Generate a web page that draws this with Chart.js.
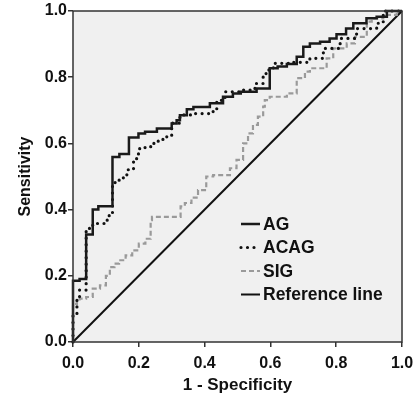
<!DOCTYPE html>
<html>
<head>
<meta charset="utf-8">
<script src="https://cdn.jsdelivr.net/npm/chart.js@4"></script>
<style>
  body { margin: 0; background: #fff; }
  #wrap { width: 416px; height: 399px; }
</style>
</head>
<body>
<div id="wrap"><canvas id="roc"></canvas></div>
<script>
// ROC points as [1 - specificity, sensitivity]
const agPoints = [
    [0, 0], [0, 0.167], [0.02, 0.185], [0.04, 0.19], [0.06, 0.325], [0.077, 0.40],
    [0.12, 0.41], [0.12, 0.547], [0.141, 0.559], [0.17, 0.568], [0.199, 0.618],
    [0.219, 0.63], [0.255, 0.635], [0.30, 0.645], [0.315, 0.66], [0.325, 0.67],
    [0.346, 0.685], [0.366, 0.703], [0.416, 0.71], [0.456, 0.721], [0.486, 0.741],
    [0.51, 0.751], [0.558, 0.756], [0.598, 0.766], [0.622, 0.827], [0.65, 0.832],
    [0.68, 0.84], [0.70, 0.862], [0.72, 0.892], [0.751, 0.902], [0.78, 0.907],
    [0.801, 0.917], [0.83, 0.93], [0.852, 0.947], [0.892, 0.963], [0.923, 0.978],
    [0.954, 0.983], [1, 1]
];
const acagPoints = [
    [0, 0], [0, 0.08], [0.012, 0.086], [0.02, 0.132], [0.04, 0.157], [0.04, 0.207],
    [0.06, 0.343], [0.10, 0.358], [0.11, 0.368], [0.12, 0.389], [0.128, 0.474],
    [0.153, 0.489], [0.168, 0.505], [0.184, 0.521], [0.199, 0.554], [0.219, 0.584],
    [0.239, 0.59], [0.259, 0.60], [0.279, 0.612], [0.30, 0.62], [0.325, 0.661],
    [0.366, 0.686], [0.416, 0.69], [0.437, 0.696], [0.462, 0.73], [0.477, 0.756],
    [0.518, 0.756], [0.553, 0.761], [0.578, 0.781], [0.594, 0.811], [0.609, 0.822],
    [0.66, 0.842], [0.72, 0.845], [0.761, 0.857], [0.812, 0.887], [0.862, 0.917],
    [0.923, 0.947], [0.943, 0.963], [1, 1]
];
const sigPoints = [
    [0, 0], [0, 0.10], [0.012, 0.115], [0.02, 0.125], [0.04, 0.131], [0.06, 0.136],
    [0.082, 0.161], [0.10, 0.171], [0.112, 0.20], [0.126, 0.226], [0.14, 0.237],
    [0.16, 0.247], [0.18, 0.262], [0.20, 0.277], [0.22, 0.297], [0.236, 0.312],
    [0.24, 0.368], [0.27, 0.378], [0.327, 0.378], [0.34, 0.41], [0.36, 0.42],
    [0.38, 0.436], [0.405, 0.459], [0.426, 0.50], [0.477, 0.504], [0.497, 0.525],
    [0.517, 0.55], [0.532, 0.60], [0.547, 0.63], [0.562, 0.656], [0.578, 0.681],
    [0.583, 0.711], [0.598, 0.731], [0.65, 0.741], [0.68, 0.751], [0.705, 0.797],
    [0.72, 0.817], [0.771, 0.827], [0.791, 0.857], [0.832, 0.887], [0.857, 0.902],
    [0.893, 0.922], [0.908, 0.968], [0.943, 0.978], [0.984, 0.988], [1, 1]
];
const refPoints = [[0, 0], [1, 1]];
const seriesNames = ["AG", "ACAG", "SIG", "Reference line"];
const tickValues = [0, 0.2, 0.4, 0.6, 0.8, 1.0];

const toXY = pts => pts.map(p => ({ x: p[0], y: p[1] }));
const FONT = "'Liberation Sans', Arial, sans-serif";

// grey plot panel + frame
const panel = {
    id: "panel",
    beforeDatasetsDraw(chart) {
        const { ctx, chartArea: a } = chart;
        ctx.save();
        ctx.fillStyle = "#f0f0f0";
        ctx.fillRect(a.left, a.top, a.right - a.left, a.bottom - a.top);
        ctx.restore();
    },
    afterDatasetsDraw(chart) {
        const { ctx, chartArea: a } = chart;
        ctx.save();
        ctx.strokeStyle = "#333";
        ctx.lineWidth = 1.5;
        ctx.strokeRect(a.left, a.top, a.right - a.left, a.bottom - a.top);
        ctx.restore();
    }
};

// legend drawn inside the plot, lower right
const innerLegend = {
    id: "innerLegend",
    afterDraw(chart) {
        const { ctx, chartArea: a } = chart;
        const x0 = a.left + 168, y0 = a.top + 213, gap = 23.5;
        ctx.save();
        ctx.font = "bold 17.5px " + FONT;
        ctx.textBaseline = "middle";
        chart.data.datasets.forEach((ds, i) => {
            const y = y0 + i * gap;
            ctx.strokeStyle = ds.borderColor;
            ctx.lineWidth = ds.borderWidth;
            ctx.lineCap = ds.borderCapStyle || "butt";
            ctx.setLineDash(ds.borderDash || []);
            ctx.beginPath();
            ctx.moveTo(x0, y);
            ctx.lineTo(x0 + 19, y);
            ctx.stroke();
            ctx.setLineDash([]);
            ctx.fillStyle = "#111";
            ctx.fillText(ds.label, x0 + 22, y + 1);
        });
        ctx.restore();
    }
};

const axis = (title, isY) => ({
    type: "linear",
    min: 0,
    max: 1,
    afterBuildTicks: s => { s.ticks = tickValues.map(v => ({ value: v })); },
    afterFit: s => {
        if (isY) s.width = 73; else s.height = 57;
        s.paddingLeft = 0; s.paddingRight = 0; s.paddingTop = 0; s.paddingBottom = 0;
    },
    border: { display: false },
    grid: { display: true, drawOnChartArea: false, drawTicks: true, tickLength: 5, color: "#333", lineWidth: 1.5 },
    ticks: {
        padding: isY ? 1 : 7,
        color: "#111",
        font: { family: FONT, size: 16, weight: "bold" },
        callback: v => v.toFixed(1)
    },
    title: {
        display: true,
        text: title,
        color: "#111",
        font: { family: FONT, size: isY ? 16 : 17, weight: "bold" },
        padding: isY ? { top: 16, bottom: 0 } : { top: 2, bottom: 3 }
    }
});

new Chart(document.getElementById("roc"), {
    type: "scatter",
    data: {
        datasets: [
            { label: seriesNames[0], data: toXY(agPoints), showLine: true, stepped: "after",
              borderColor: "#1a1a1a", borderWidth: 2.5, pointRadius: 0, clip: 4 },
            { label: seriesNames[1], data: toXY(acagPoints), showLine: true, stepped: "after",
              borderColor: "#111", borderWidth: 3.2, borderDash: [0, 6.5], borderCapStyle: "round",
              pointRadius: 0, clip: 4 },
            { label: seriesNames[2], data: toXY(sigPoints), showLine: true, stepped: "after",
              borderColor: "#9a9a9a", borderWidth: 2.2, borderDash: [5, 3],
              pointRadius: 0, clip: 4 },
            { label: seriesNames[3], data: toXY(refPoints), showLine: true,
              borderColor: "#111", borderWidth: 2, pointRadius: 0, clip: 4 }
        ]
    },
    options: {
        responsive: true,
        maintainAspectRatio: false,
        animation: false,
        layout: { padding: { top: 11, right: 14, left: 0, bottom: 0 } },
        plugins: { legend: { display: false }, tooltip: { enabled: false } },
        scales: {
            x: axis("1 - Specificity", false),
            y: axis("Sensitivity", true)
        }
    },
    plugins: [panel, innerLegend]
});
</script>
</body>
</html>
